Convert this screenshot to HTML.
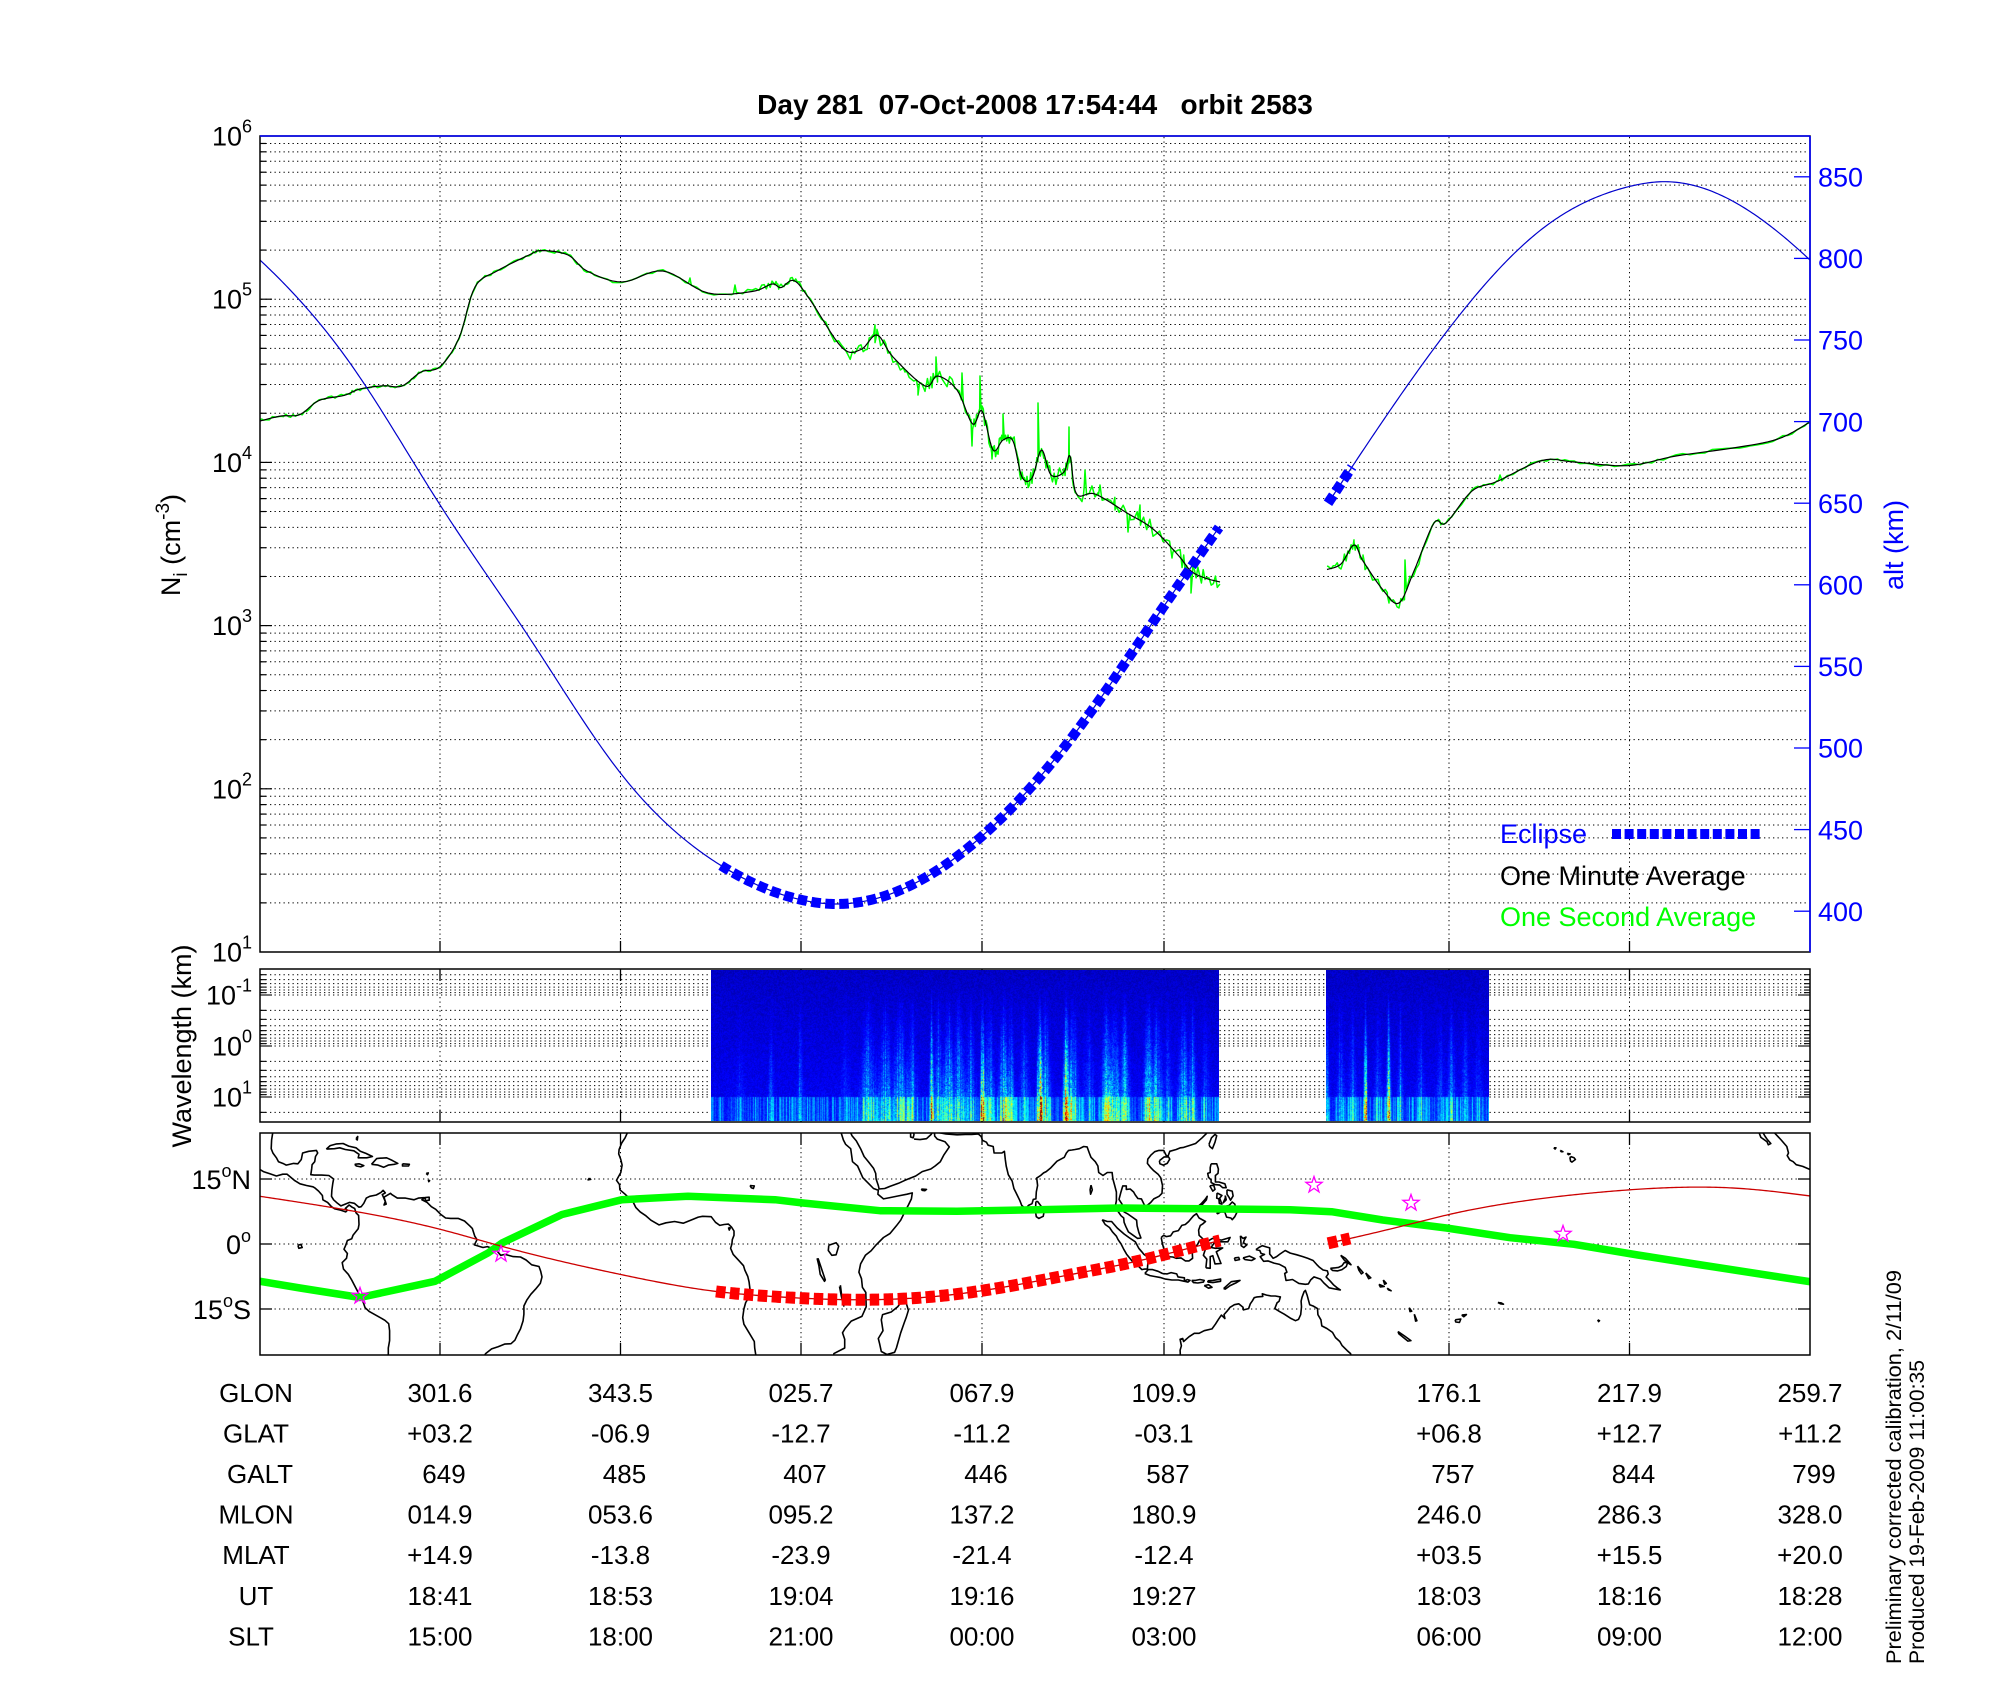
<!DOCTYPE html>
<html><head><meta charset="utf-8">
<style>
html,body{margin:0;padding:0;background:#fff;}
body{width:2000px;height:1700px;position:relative;overflow:hidden;}
#s{position:absolute;left:0;top:0;}
canvas{position:absolute;}
text{font-family:"Liberation Sans",Arial,sans-serif;}
</style></head><body>
<svg id="s" width="2000" height="1700" viewBox="0 0 2000 1700" xmlns="http://www.w3.org/2000/svg">
<defs>
<clipPath id="cm"><rect x="260" y="1133" width="1550" height="222"/></clipPath>
<clipPath id="ct"><rect x="260" y="136" width="1550" height="816"/></clipPath>
</defs>
<rect x="0" y="0" width="2000" height="1700" fill="#fff"/>
<g id="grid"></g>
<g id="data" clip-path="url(#ct)"></g>
<g id="map" clip-path="url(#cm)"></g>
<g id="axes"></g>

<text x="1035" y="114" font-size="28" font-weight="bold" text-anchor="middle" style="white-space:pre">Day 281  07-Oct-2008 17:54:44   orbit 2583</text>

<g font-size="27" text-anchor="end">
<text x="252" y="145.5">10<tspan dy="-13" font-size="18">6</tspan></text>
<text x="252" y="308.7">10<tspan dy="-13" font-size="18">5</tspan></text>
<text x="252" y="471.9">10<tspan dy="-13" font-size="18">4</tspan></text>
<text x="252" y="635.1">10<tspan dy="-13" font-size="18">3</tspan></text>
<text x="252" y="798.3">10<tspan dy="-13" font-size="18">2</tspan></text>
<text x="252" y="961.5">10<tspan dy="-13" font-size="18">1</tspan></text>
<text x="252" y="1004.5">10<tspan dy="-13" font-size="18">-1</tspan></text>
<text x="252" y="1055.5">10<tspan dy="-13" font-size="18">0</tspan></text>
<text x="252" y="1106.5">10<tspan dy="-13" font-size="18">1</tspan></text>
<text x="251" y="1189">15<tspan dy="-12" font-size="18">o</tspan><tspan dy="12">N</tspan></text>
<text x="251" y="1254">0<tspan dy="-12" font-size="18">o</tspan></text>
<text x="251" y="1319">15<tspan dy="-12" font-size="18">o</tspan><tspan dy="12">S</tspan></text>
</g>

<g font-size="27" fill="#0000ff">
<text x="1818" y="186.5">850</text>
<text x="1818" y="268.1">800</text>
<text x="1818" y="349.7">750</text>
<text x="1818" y="431.3">700</text>
<text x="1818" y="512.9">650</text>
<text x="1818" y="594.5">600</text>
<text x="1818" y="676.1">550</text>
<text x="1818" y="757.7">500</text>
<text x="1818" y="839.3">450</text>
<text x="1818" y="920.9">400</text>
</g>

<text transform="translate(180,545) rotate(-90)" text-anchor="middle" font-size="27">N<tspan font-size="19" dy="7">i</tspan><tspan dy="-7"> (cm</tspan><tspan font-size="19" dy="-11">-3</tspan><tspan dy="11">)</tspan></text>
<text transform="translate(1903,545) rotate(-90)" text-anchor="middle" font-size="27" fill="#0000ff">alt (km)</text>
<text transform="translate(191,1046) rotate(-90)" text-anchor="middle" font-size="27">Wavelength (km)</text>

<text x="1500" y="843" fill="#0000ff" font-size="27">Eclipse</text>
<text x="1500" y="885" fill="#000" font-size="27">One Minute Average</text>
<text x="1500" y="926" fill="#00ff00" font-size="27">One Second Average</text>

<g font-size="26" text-anchor="middle">
<text x="256" y="1402">GLON</text>
<text x="440" y="1402">301.6</text><text x="620.5" y="1402">343.5</text><text x="801" y="1402">025.7</text><text x="982" y="1402">067.9</text><text x="1164" y="1402">109.9</text><text x="1449" y="1402">176.1</text><text x="1629.5" y="1402">217.9</text><text x="1810" y="1402">259.7</text>
<text x="256" y="1442.5">GLAT</text>
<text x="440" y="1442.5">+03.2</text><text x="620.5" y="1442.5">-06.9</text><text x="801" y="1442.5">-12.7</text><text x="982" y="1442.5">-11.2</text><text x="1164" y="1442.5">-03.1</text><text x="1449" y="1442.5">+06.8</text><text x="1629.5" y="1442.5">+12.7</text><text x="1810" y="1442.5">+11.2</text>
<text x="260" y="1483">GALT</text>
<text x="444" y="1483">649</text><text x="624.5" y="1483">485</text><text x="805" y="1483">407</text><text x="986" y="1483">446</text><text x="1168" y="1483">587</text><text x="1453" y="1483">757</text><text x="1633.5" y="1483">844</text><text x="1814" y="1483">799</text>
<text x="256" y="1523.5">MLON</text>
<text x="440" y="1523.5">014.9</text><text x="620.5" y="1523.5">053.6</text><text x="801" y="1523.5">095.2</text><text x="982" y="1523.5">137.2</text><text x="1164" y="1523.5">180.9</text><text x="1449" y="1523.5">246.0</text><text x="1629.5" y="1523.5">286.3</text><text x="1810" y="1523.5">328.0</text>
<text x="256" y="1564">MLAT</text>
<text x="440" y="1564">+14.9</text><text x="620.5" y="1564">-13.8</text><text x="801" y="1564">-23.9</text><text x="982" y="1564">-21.4</text><text x="1164" y="1564">-12.4</text><text x="1449" y="1564">+03.5</text><text x="1629.5" y="1564">+15.5</text><text x="1810" y="1564">+20.0</text>
<text x="256" y="1605">UT</text>
<text x="440" y="1605">18:41</text><text x="620.5" y="1605">18:53</text><text x="801" y="1605">19:04</text><text x="982" y="1605">19:16</text><text x="1164" y="1605">19:27</text><text x="1449" y="1605">18:03</text><text x="1629.5" y="1605">18:16</text><text x="1810" y="1605">18:28</text>
<text x="251" y="1645.5">SLT</text>
<text x="440" y="1645.5">15:00</text><text x="620.5" y="1645.5">18:00</text><text x="801" y="1645.5">21:00</text><text x="982" y="1645.5">00:00</text><text x="1164" y="1645.5">03:00</text><text x="1449" y="1645.5">06:00</text><text x="1629.5" y="1645.5">09:00</text><text x="1810" y="1645.5">12:00</text>
</g>

<text transform="translate(1901,1664) rotate(-90)" font-size="21.5" textLength="394" lengthAdjust="spacingAndGlyphs">Preliminary corrected calibration, 2/11/09</text>
<text transform="translate(1924,1664) rotate(-90)" font-size="21.5" textLength="304" lengthAdjust="spacingAndGlyphs">Produced 19-Feb-2009 11:00:35</text>
</svg>
<canvas id="c1" width="508" height="151" style="left:711px;top:970px"></canvas>
<canvas id="c2" width="163" height="151" style="left:1326px;top:970px"></canvas>
<script>
(function(){
const NS="http://www.w3.org/2000/svg";
function $(id){return document.getElementById(id);}
function mk(tag,at,par){const e=document.createElementNS(NS,tag);for(const k in at)e.setAttribute(k,at[k]);par.appendChild(e);return e;}
function ln(par,x1,y1,x2,y2,st,w,da){const a={x1:x1,y1:y1,x2:x2,y2:y2,stroke:st,'stroke-width':w||1};if(da)a['stroke-dasharray']=da;return mk('line',a,par);}
function pd(pts){return 'M'+pts.map(p=>p[0].toFixed(2)+','+p[1].toFixed(2)).join('L');}
function rng(seed){let s=seed>>>0;return function(){s=(Math.imul(s,1664525)+1013904223)>>>0;return s/4294967296;};}
const G=$('grid'),D=$('data'),M=$('map'),A=$('axes');
const TX=[440,620.5,801,982,1164,1449,1629.5];
const DOT='1.3 3.2';
const L10=Math.log10;

/* ---------- top panel grid ---------- */
for(let e=1;e<=5;e++){for(let k=1;k<=9;k++){const v=e+L10(k);const y=136+(6-v)*163.2;
  if(y>137&&y<951){ln(G,261,y,1809,y,'#000',1,DOT);}
  if(y>136&&y<952){ln(A,260,y,260+(k==1?12:6),y,'#000',1.2);}
}}
TX.forEach(x=>{ln(G,x,137,x,951,'#000',1,DOT);ln(A,x,952,x,941,'#000',1.3);});
for(let alt=400;alt<=850;alt+=50){const y=136+(875-alt)*1.632;ln(A,1794,y,1810,y,'#0000ff',1.3);}
mk('rect',{x:260,y:136,width:1550,height:816,fill:'none',stroke:'#000','stroke-width':1.5},A);
ln(A,260,136,1810,136,'#0000ff',1.6);ln(A,1810,136,1810,952,'#0000ff',1.6);

/* ---------- spectrogram grid ---------- */
[-2,-1,0,1].forEach(b=>{for(let k=1;k<=9;k++){const v=b+L10(k);const y=995+(v+1)*51;
  if(y>970&&y<1121){ln(G,261,y,1809,y,'#000',1,DOT);ln(A,260,y,260+(k==1?12:6),y,'#000',1.1);ln(A,1810,y,1810-(k==1?12:6),y,'#000',1.1);}
}});
TX.forEach(x=>{ln(G,x,970,x,1121,'#000',1,DOT);ln(A,x,969,x,981,'#000',1.3);ln(A,x,1122,x,1110,'#000',1.3);});
mk('rect',{x:260,y:969,width:1550,height:153,fill:'none',stroke:'#000','stroke-width':1.5},A);

/* ---------- map grid ---------- */
[15,0,-15].forEach(la=>{const y=1244-la*4.333;ln(G,261,y,1809,y,'#000',1,DOT);ln(A,260,y,272,y,'#000',1.3);ln(A,1810,y,1798,y,'#000',1.3);});
TX.forEach(x=>{ln(G,x,1134,x,1354,'#000',1,DOT);ln(A,x,1133,x,1145,'#000',1.3);ln(A,x,1355,x,1343,'#000',1.3);});
mk('rect',{x:260,y:1133,width:1550,height:222,fill:'none',stroke:'#000','stroke-width':1.5},A);

/* ---------- helpers ---------- */
function spline(pts){const xs=pts.map(p=>p[0]),ys=pts.map(p=>p[1]);const n=xs.length;const h=[],al=[0],l=[1],mu=[0],z=[0];
 for(let i=0;i<n-1;i++)h[i]=xs[i+1]-xs[i];
 for(let i=1;i<n-1;i++)al[i]=3/h[i]*(ys[i+1]-ys[i])-3/h[i-1]*(ys[i]-ys[i-1]);
 for(let i=1;i<n-1;i++){l[i]=2*(xs[i+1]-xs[i-1])-h[i-1]*mu[i-1];mu[i]=h[i]/l[i];z[i]=(al[i]-h[i-1]*z[i-1])/l[i];}
 const c=new Array(n).fill(0),b=[],d=[];
 for(let j=n-2;j>=0;j--){c[j]=z[j]-mu[j]*c[j+1];b[j]=(ys[j+1]-ys[j])/h[j]-h[j]*(c[j+1]+2*c[j])/3;d[j]=(c[j+1]-c[j])/(3*h[j]);}
 return function(x){let i=0;if(x>=xs[n-1])i=n-2;else{while(i<n-2&&x>xs[i+1])i++;}const dx=x-xs[i];return ys[i]+b[i]*dx+c[i]*dx*dx+d[i]*dx*dx*dx;};}
function crSample(p,n){const out=[];for(let i=0;i<p.length-1;i++){const p0=p[Math.max(0,i-1)],p1=p[i],p2=p[i+1],p3=p[Math.min(p.length-1,i+2)];
 for(let j=0;j<n;j++){const t=j/n,t2=t*t,t3=t2*t;const f=(a,b,c,d)=>0.5*((2*b)+(-a+c)*t+(2*a-5*b+4*c-d)*t2+(-a+3*b-3*c+d)*t3);
 out.push([f(p0[0],p1[0],p2[0],p3[0]),f(p0[1],p1[1],p2[1],p3[1])]);}}out.push(p[p.length-1]);return out;}

/* ---------- density ---------- */
const NB1=[[260,421],[281,416],[300,414.5],[319,400.5],[344,395.4],[360,389],[383,385.8],[402,386],[421,372],[440,366.7],[459,338],[475,287],[497,271],[529,255],[542,250.6],[568,255],[587,271],[622,282],[663,271],[708,293],[752,291.5],[772,284],[781,287.6],[794,280.6],[810,299.7],[842,347.6],[861,349.5],[877,335],[893,357],[925,386],[937.5,376],[957,390],[972.6,424],[982,411],[993,450],[1003,440],[1013,441],[1022,477],[1032,478],[1041.5,450],[1051,475],[1064,472],[1070,456],[1076.5,494],[1095,494],[1127,513],[1153,529],[1178,555],[1191,571],[1205,578],[1220,582]];
const NB2=[[1327,569.5],[1341,564],[1354,545],[1363,561],[1383,590],[1399,603],[1414,571],[1434,523],[1446,523],[1472,491],[1497,481.5],[1542,460.5],[1574,462],[1628,465.6],[1676,456],[1733,448],[1778,439],[1810,422]];
const SP=[[875,325],[936,357],[962,373],[980,376],[972,446],[992,459],[1003,414],[1038,403],[1069,427],[1100,485],[1115,510],[1128,532],[1172,558],[1191,593],[1354,542],[1363,555],[1389,603],[1500,475],[905,372],[918,395],[1085,470],[1140,505],[1405,560],[690,278],[735,285]];
const R=rng(12345);
function amp(x){if(x>=850&&x<=1225)return 8;if(x>=700&&x<850)return 3.5;if(x>=1327&&x<=1430)return 5.5;return 1.6;}
[NB1,NB2].forEach(nb=>{
 const dense=crSample(nb,8);
 let gr=dense.map(p=>[p[0],p[1]+(R()-0.5)*2*amp(p[0])]);
 const x0=nb[0][0],x1=nb[nb.length-1][0];
 function baseY(x){for(let i=0;i<dense.length-1;i++){if(x>=dense[i][0]&&x<=dense[i+1][0]){const t=(x-dense[i][0])/(dense[i+1][0]-dense[i][0]||1);return dense[i][1]+t*(dense[i+1][1]-dense[i][1]);}}return dense[dense.length-1][1];}
 SP.forEach(s=>{if(s[0]>x0+2&&s[0]<x1-2){gr.push([s[0]-1.6,baseY(s[0]-1.6)]);gr.push([s[0],s[1]]);gr.push([s[0]+1.6,baseY(s[0]+1.6)]);}});
 gr.sort((a,b)=>a[0]-b[0]);
 mk('path',{d:pd(gr),fill:'none',stroke:'#00ff00','stroke-width':1.5,'stroke-linejoin':'round'},D);
 mk('path',{d:pd(dense),fill:'none',stroke:'#000','stroke-width':1.2,'stroke-linejoin':'round'},D);
});

/* ---------- altitude ---------- */
const AP=[[1328,650],[1449,757],[1542,818],[1629,844],[1663,847],[1733,835],[1810,799],[1901,735],[1990,649],[2080,567],[2170,485],[2271,428],[2351,407],[2380,404.5],[2532,446],[2620,505],[2714,587],[2770,636]];
const af=spline(AP);
function ay(alt){return 136+(875-alt)*1.632;}
function altPts(u0,u1){const p=[];for(let u=u0;u<=u1+0.001;u+=2){const uu=Math.min(u,u1);p.push([uu>1810?uu-1550:uu,ay(af(uu))]);}return p;}
mk('path',{d:pd(altPts(1328,1810)),fill:'none',stroke:'#0000cc','stroke-width':1.2},D);
mk('path',{d:pd(altPts(1810.0001,2770)),fill:'none',stroke:'#0000cc','stroke-width':1.2},D);
mk('path',{d:pd(altPts(1328,1353)),fill:'none',stroke:'#0000ff','stroke-width':10,'stroke-dasharray':'9.5 4.5'},D);
mk('path',{d:pd(altPts(2271,2770)),fill:'none',stroke:'#0000ff','stroke-width':10,'stroke-dasharray':'9.5 4.5'},D);
ln(A,1612,834,1763,834,'#0000ff',10,'9 3.6');

/* ---------- map ---------- */
function mx(lon){const o=((lon-259.7)%360+360)%360;return 260+o*4.3056;}
function my(lat){return 1244-lat*4.333;}
const C=[
[[-108.5,25.6],[-107,24],[-105.7,22.5],[-105.3,21],[-105.6,20.4],[-105,19.4],[-104.2,19],[-103.5,18.3],[-102,17.9],[-100.301,17.2],[-100.3,17.2],[-99.5,16.7],[-98,16.2],[-96.5,15.7],[-95,16.1],[-94,16.1],[-92.2,14.6],[-91,13.9],[-89.5,13.5],[-88,13.2],[-87.5,12.9],[-86.7,12.2],[-85.8,11.2],[-85.7,10.2],[-85,9.8],[-84.6,9.6],[-83.7,8.6],[-82.9,8.1],[-81.5,7.8],[-80.4,7.4],[-80,7.8],[-80.5,8.2],[-79.6,9],[-78.9,8.5],[-78.3,8.2],[-78,7.2],[-77.4,6.6],[-77.3,4.5],[-77.5,3.5],[-78.7,2],[-79,1.2],[-80,0.8],[-80.4,-0.3],[-80.8,-1.2],[-80,-2.2],[-80.2,-3.3],[-81.2,-4.3],[-80.9,-5.8],[-79.8,-7],[-79,-8.3],[-77.7,-10.8],[-76.3,-13.5],[-75.9,-14.7],[-74.9,-15.6],[-72.7,-16.8],[-71.3,-17.6],[-70.4,-18.4],[-70.2,-20],[-70.2,-22.3],[-70.5,-24],[-70.5,-26.5]],
[[-97.2,26.5],[-97.6,24],[-97.7,22],[-97.3,21],[-96.5,19.9],[-96,19],[-94.8,18.5],[-94.2,18.2],[-92.5,18.6],[-91.5,18.5],[-90.7,19.5],[-90.4,21],[-89,21.4],[-87.2,21.6],[-86.9,21],[-87.4,20.2],[-87.6,19],[-88.2,18.3],[-88.3,17.4],[-88.5,16],[-87.7,15.9],[-86,15.9],[-84.3,15.8],[-83.2,15],[-83.4,14],[-83.6,12.5],[-83.7,11],[-83.2,10.2],[-82.3,9.4],[-81.5,8.8],[-80.5,9.2],[-79.5,9.6],[-78.4,9.4],[-77.3,8.5],[-76.8,8.6],[-76.2,9.4],[-75.6,10.6],[-74.8,11],[-73.3,11.3],[-72.2,11.9],[-71.7,12.4],[-71.2,11.8],[-71.9,11.4],[-71.6,10.7],[-71.2,9.8],[-71.5,9],[-71,9.2],[-71.5,10.8],[-70,11.7],[-69.7,11.4],[-68.4,10.6],[-66.5,10.6],[-64.5,10.2],[-63.5,10.6],[-61.9,10.7],[-62.7,10.2],[-61.5,9.6],[-60.5,8.6],[-59.5,8],[-58.4,6.9],[-57.2,6],[-56,5.9],[-54.3,5.9],[-52.8,5.3],[-51.6,4.2],[-51,3.6],[-50.4,1.8],[-49.9,1],[-50.5,-0.2],[-48.5,-0.8],[-47.5,-0.6],[-45.5,-1.3],[-44.4,-2.6],[-43.4,-2.4],[-41.5,-2.9],[-39.8,-3],[-38.5,-3.7],[-37.2,-4.8],[-35.5,-5.2],[-35.1,-6.3],[-34.8,-7.6],[-35.2,-9.1],[-36.3,-10.4],[-37.4,-11.6],[-38.3,-12.9],[-39,-14.3],[-39,-16.2],[-39.2,-17.7],[-39.8,-19.6],[-40.5,-20.9],[-41.1,-22.2],[-42,-23],[-43.5,-23.1],[-45,-23.7],[-46.5,-24.2],[-47.9,-25.3],[-48.6,-26.5]],
[[-84.9,21.9],[-84,22.7],[-82.5,23.1],[-81,23.2],[-79.7,22.6],[-78,22.2],[-77,21.4],[-75.7,20.9],[-74.2,20.2],[-75.5,19.9],[-77.5,19.9],[-77.3,20.7],[-78.5,21.5],[-80.5,21.8],[-81.8,22.2],[-83,22],[-84.9,21.9]],
[[-74.4,18.4],[-73.2,19.7],[-72.4,19.8],[-70.9,19.9],[-69.6,19.3],[-68.3,18.6],[-69.1,18.4],[-70.5,18.2],[-71.6,17.7],[-72.9,18.2],[-74.4,18.4]],
[[-78.3,18.4],[-77.3,18.5],[-76.2,18.1],[-76.9,17.8],[-77.9,18],[-78.3,18.4]],
[[-67.2,18.5],[-65.6,18.4],[-65.8,18],[-67.2,18],[-67.2,18.5]],
[[-78,24.3],[-77.6,24.8],[-77.7,24],[-78,24.3]],
[[-61.9,10],[-61,10.1],[-61,10.8],[-61.9,10.7],[-61.9,10]],
[[-61.7,16.3],[-61.2,16.4],[-61.4,16],[-61.7,16.3]],[[-61.2,14.8],[-60.9,14.6],[-61.1,14.4],[-61.2,14.8]],
[[-91.5,-0.3],[-90.8,-0.1],[-90.5,-0.8],[-91.3,-1],[-91.5,-0.3]],
[[-23.8,15.2],[-23.5,14.9],[-24.1,14.8],[-23.8,15.2]],
[[-14.6,26.5],[-15.5,24.5],[-16.3,23.3],[-16.9,21.8],[-17,20.8],[-16.5,19.5],[-16.2,18.2],[-16.5,16.5],[-17.5,14.7],[-16.8,13.7],[-16.7,12.5],[-15.5,11.5],[-14.8,10.8],[-13.6,9.6],[-13,8.4],[-12,7.4],[-10.8,6.6],[-9.5,5.5],[-7.6,4.4],[-6,4.9],[-4,5.2],[-2,4.8],[0,5.6],[1.5,6.2],[2.5,6.4],[4.5,6.3],[5.5,5],[6.5,4.3],[7.5,4.5],[8.5,4.6],[9.2,3.9],[9.8,3],[9.8,2],[9.4,1],[9.3,0],[9,-1],[9.6,-2.4],[11,-3.9],[12,-5],[12.3,-6],[13,-7.5],[13.3,-8.8],[13.5,-10.5],[13.8,-11.5],[12.5,-13.5],[12.1,-15],[11.8,-17],[12.1,-18.5],[13.3,-20.5],[14.5,-22.5],[14.6,-24],[15,-26.5]],
[[8.5,3.8],[8.9,3.7],[8.7,3.2],[8.5,3.8]],
[[13.5,13.5],[14.5,13.4],[14.3,12.8],[13.8,13],[13.5,13.5]],
[[34.4,26.5],[35.2,24],[35.7,23],[36.9,22],[37.3,19],[38.5,18],[39.7,15.3],[41,14],[42.2,12.8],[43.3,12.4],[43.2,11.5],[44.5,10.4],[46,10.7],[48,11.1],[50,11.5],[51.2,11.8],[51,10.4],[50.3,9],[49.5,7.5],[48.5,5.5],[47.5,4.2],[46,2.4],[44.5,1.5],[42.8,-0.2],[41.6,-1.6],[40.3,-2.6],[39.2,-4.6],[38.8,-6.5],[39.4,-8],[39.6,-10],[40.4,-11.2],[40.5,-14.5],[39.5,-16.7],[37,-17.8],[35.6,-19.5],[35,-20.5],[35.5,-22],[35.5,-24],[33,-25.3],[32.8,-26.5]],
[[31.8,-0.3],[33.5,0.3],[34.1,-0.5],[33.5,-2.5],[32.5,-2.6],[31.7,-1.5],[31.8,-0.3]],
[[29.1,-3.3],[29.5,-5],[29.8,-7],[30.8,-8.6],[31,-8.3],[30.4,-6.5],[29.8,-4.8],[29.3,-3.3]],
[[34.5,-9.5],[34.8,-12],[35.3,-14.3],[34.7,-12],[34.3,-9.8]],
[[49.3,-12],[50.3,-15.3],[49.8,-16.9],[49.4,-18],[48.5,-20.5],[47.5,-24],[47.1,-25],[45.3,-25.5],[44,-24.8],[43.6,-23],[43.3,-21.8],[44.4,-20],[44,-17.5],[44.3,-16.3],[46.3,-15.7],[47.8,-14.5],[48.5,-13.5],[49.3,-12]],
[[36.5,26.5],[37.2,25],[38.2,23.8],[39.2,22],[40,20.2],[41,19],[42.2,17.5],[42.7,16.3],[42.8,15],[43.3,13.5],[43.5,12.7],[44.8,12.8],[46,13.3],[48,14],[49.5,14.7],[52,15.7],[53.5,16.7],[55.5,17.3],[56.5,18],[57.7,19],[58.5,20.5],[59.8,22.4],[58.8,23.6],[57,24.2],[56.4,24.9],[56.3,26.3]],
[[50.8,26],[50.8,24.7],[51.4,24.5],[51.6,25.3],[51.3,26.1]],
[[51.6,24.2],[53,24.1],[54.5,24.3],[55.6,25.3],[56,26]],
[[53.3,12.7],[54.5,12.6],[54.1,12.3],[53.5,12.4],[53.3,12.7]],
[[56.8,27],[57.3,25.7],[59,25.4],[61.6,25.2],[63.5,25.3],[65,25.3],[66.5,25.4],[67.2,24.8],[67.5,23.9],[68.4,23.5],[68.8,22.8],[70,22.5],[70.2,21],[72,21],[72.6,21.4],[72.8,19.5],[73,18],[73.5,16],[74.4,14.5],[74.8,12.8],[75.3,11.8],[76.2,10],[76.6,8.9],[77.5,8.1],[78.2,8.9],[79,9.3],[79.3,10.3],[79.9,10.4],[80,12],[80.3,13.5],[80.1,15.2],[81,15.8],[81.7,16.4],[82.3,16.7],[83.4,17.6],[84.8,19.1],[86.5,20],[87,21],[87.5,21.6],[88.3,21.7],[89,21.8],[90,22],[91,22.5],[91.8,22.4],[92.3,21],[92.7,20],[93.7,19],[94.3,18],[94.5,16.5],[95.5,15.8],[96.5,16.5],[97.6,16.5],[97.8,15],[98.2,13.5],[98.6,12],[98.6,10],[98.3,8.5],[98.5,8],[99,7.5],[99.7,6.5],[100.3,6],[100.4,5],[100.8,4],[101.4,2.8],[102.5,2],[103.5,1.3],[104.3,1.4],[103.8,2.7],[103.4,4.2],[103.3,5.5],[102.3,6.2],[101.3,6.9],[100.4,7.4],[100.3,8.5],[99.9,9.2],[99.2,10.3],[99.6,11.8],[99.9,12.8],[100.1,13.4],[100.9,13.4],[100.9,12.6],[101.8,12.7],[102.6,12],[103,11.3],[103.6,10.5],[104.4,10.4],[105.1,9],[104.8,8.6],[105.6,8.8],[106.5,9.5],[107.3,10.4],[108.5,11],[109.2,11.7],[109.3,13.5],[108.9,15.3],[108.3,16.1],[107.3,16.9],[106.6,17.6],[105.8,18.6],[105.9,19.6],[106.6,20.5],[107.5,21.3],[108.5,21.6],[109.6,21.6],[110.2,20.4],[110.6,20.3],[111,21.4],[112.5,21.8],[113.5,22.2],[114.2,22.3],[115.5,22.7],[117,23.2],[118.5,24.5],[119.5,25.5],[120,26.5]],
[[79.9,9.8],[80.3,9.8],[81.3,8.5],[81.8,7.3],[81.6,6.4],[80.6,5.9],[80,6.3],[79.8,7.6],[79.9,9.8]],
[[92.7,13.6],[93,12.5],[92.6,11.5],[92.5,12.5],[92.7,13.6]],
[[108.6,19.2],[109.7,20.1],[110.7,20.1],[111,19.6],[110.4,18.6],[109.5,18.2],[108.7,18.5],[108.6,19.2]],
[[120.1,23],[120.7,24.5],[121.5,25.3],[121.9,25],[121.5,23.5],[120.9,22],[120.3,22.5],[120.1,23]],
[[120.6,18.5],[121.9,18.5],[122.3,17.3],[122.2,16.3],[121.6,15.8],[121.6,14.3],[122.4,14.3],[123.8,13.9],[124.1,13],[123.3,13],[122.6,13.6],[121.5,13.7],[120.6,14.2],[120.6,14.8],[120,15.4],[119.8,16.3],[120.4,16.5],[120.4,17.6],[120.6,18.5]],
[[120.3,13.4],[121.2,13.6],[121.5,12.6],[121,12.2],[120.3,13.4]],
[[124.3,12.5],[125.5,12.2],[125.7,11.1],[125.1,10.1],[124.8,10.7],[124.3,11.5],[124.3,12.5]],
[[122,11.8],[123.1,11.2],[122.6,10.6],[123.1,9.2],[122.5,9.4],[122.4,10.4],[121.9,10.6],[122,11.8]],
[[123.9,11.2],[124.1,10.2],[123.4,9.5],[123.9,10.6],[123.9,11.2]],
[[122,6.9],[122.1,7.8],[123.3,7.9],[123.7,8.6],[124.8,8.9],[125.5,9.7],[126.1,9.2],[126.6,7.3],[126.1,6.3],[125.5,5.6],[125.2,6],[124.2,6.2],[123.8,7.3],[123.4,7.4],[122.8,7.4],[122,6.9]],
[[117.2,8.4],[118.4,9.4],[119.3,10.4],[119.7,11],[119.5,10.2],[118.4,8.9],[117.4,8.1],[117.2,8.4]],
[[109,1.5],[109.3,0],[109.6,-1],[110.1,-1.8],[110.2,-2.9],[111.7,-3],[112.5,-3.3],[113.6,-3.2],[114.6,-3.9],[115.5,-3.9],[116.3,-3.3],[116.2,-1.7],[116.8,-1],[117.5,0],[117.9,0.8],[118.9,1],[117.8,2],[117.7,3.2],[118.1,4.3],[118.6,4.6],[119.3,5.2],[117.8,6],[117.2,7],[116.5,6.5],[116,5.9],[115.4,5.2],[114.6,4.5],[113.8,4.3],[113,3.1],[111.8,2.8],[111.2,1.9],[110.2,1.7],[109.6,2],[109,1.5]],
[[95.3,5.6],[96.5,5.2],[97.5,5.2],[98.8,3.7],[100.4,2.3],[101.5,1.5],[103,0.5],[103.8,-1],[104.5,-1.8],[105,-2.4],[106,-3.1],[105.9,-4.5],[105.8,-5.8],[105.1,-5.8],[104.5,-5.9],[103.4,-4.8],[102.3,-4],[101,-2.4],[100.3,-1.2],[99.7,0],[99,1],[98.6,1.8],[97.7,2.8],[97,3.8],[96,4.5],[95.3,5.6]],
[[105.2,-6.8],[106,-5.9],[107,-5.9],[108.3,-6.3],[109.3,-6.8],[110.4,-6.9],[111.3,-6.6],[112.6,-6.9],[112.9,-7.6],[114.4,-7.8],[114.4,-8.6],[113,-8.3],[111.5,-8.3],[110,-8.1],[108.7,-7.7],[107.5,-7.5],[106.4,-7.3],[105.4,-6.9],[105.2,-6.8]],
[[115,-8.2],[115.7,-8.4],[115.2,-8.8],[114.5,-8.6],[115,-8.2]],
[[116.1,-8.4],[117,-8.4],[118,-8.2],[119,-8.4],[118.8,-8.8],[117.5,-9],[116.5,-8.9],[116.1,-8.4]],
[[119.8,-8.5],[121,-8.4],[122.8,-8.1],[122.8,-8.6],[121,-8.9],[119.9,-8.8],[119.8,-8.5]],
[[119,-9.6],[120,-9.4],[120.8,-10],[120,-10.2],[119,-9.6]],
[[123.5,-10.3],[124.5,-9.4],[125.3,-8.7],[127.3,-8.4],[126.5,-8.9],[125,-9.6],[123.9,-10.4],[123.5,-10.3]],
[[119.4,-5.5],[119.6,-3.5],[118.8,-2.6],[119.5,-0.5],[119.9,0.7],[120.9,1.3],[123,0.9],[125,1.5],[124.5,0.5],[121.5,0.5],[120.6,-0.8],[121.6,-1],[123.3,-0.9],[121.8,-1.8],[122.9,-4.5],[121.5,-4.6],[121,-2.7],[120.4,-2.9],[120.4,-5.6],[119.4,-5.5]],
[[127.4,1.9],[128,1.3],[128.7,1.6],[128.3,0.9],[128.1,0.3],[128.9,-0.2],[128.2,-0.8],[127.6,-0.4],[127.5,0.8],[127.4,1.9]],
[[126,-3.2],[127,-3.1],[127.2,-3.6],[126.2,-3.8],[126,-3.2]],
[[128,-3.2],[129.5,-2.8],[130.8,-3.4],[130,-3.8],[128.5,-3.6],[128,-3.2]],
[[131,-1.3],[131.7,-0.8],[132.5,-0.4],[133.5,-0.7],[134.2,-0.9],[134.2,-2.3],[135,-3.3],[135.8,-2.9],[136.6,-2.3],[137.8,-1.5],[139,-2.1],[140.5,-2.5],[141.9,-2.9],[143,-3.3],[144.3,-3.8],[145.1,-4.7],[145.8,-5.4],[146.6,-6],[147.6,-6.2],[147.8,-6.9],[147.3,-7.6],[148.3,-8.6],[149,-9.4],[150,-10.2],[150.6,-10.6],[149.5,-10.4],[148,-10.1],[146.8,-9],[146,-8.1],[144.5,-7.6],[143.7,-8.3],[143.2,-9.2],[142.5,-9.3],[141,-9.1],[139.5,-8.2],[138.8,-8.3],[138,-8.4],[137.7,-6.8],[138.2,-6.5],[137.8,-5.4],[136.5,-4.7],[135.2,-4.4],[133.8,-3.9],[132.8,-4],[132,-2.9],[133,-2.4],[132.2,-2.2],[131.9,-1.5],[131,-1.3]],
[[148.3,-5.6],[149.5,-5.5],[150.2,-5.4],[151,-5],[151.5,-4.3],[152.3,-4.3],[152,-5.2],[151,-5.9],[150,-6.2],[148.8,-6.1],[148.3,-5.6]],
[[150.7,-2.6],[151.8,-3.3],[152.7,-4.3],[153.1,-4.8],[152.4,-4.4],[151.5,-3.7],[150.7,-2.6]],
[[154.6,-5.1],[155.9,-6.6],[155.5,-6.9],[154.9,-6],[154.6,-5.1]],
[[156.5,-6.7],[157.7,-7.8],[157.2,-8],[156.5,-6.7]],[[159.6,-9.3],[160.8,-9.8],[159.9,-9.9],[159.6,-9.3]],[[160.6,-8.3],[161.3,-9.1],[160.9,-9.3],[160.6,-8.3]],[[161.5,-10.2],[162.4,-10.8],[161.8,-10.6],[161.5,-10.2]],
[[113.5,-26.5],[113.4,-24.5],[113.7,-23.5],[113.4,-22],[114,-21.8],[114.2,-22.5],[115.5,-21.4],[116.7,-20.6],[117.8,-20.6],[119,-20],[120.8,-19.6],[121.6,-18.5],[122.3,-17.4],[123,-16.4],[123.8,-17.2],[123.6,-16.3],[124.3,-15.5],[125,-14.6],[126,-14],[127,-13.8],[128,-14.6],[128.1,-15.2],[129.3,-14.9],[129.7,-13.8],[130.2,-13.1],[130.6,-12.4],[131.3,-12.2],[132.6,-12.1],[132.5,-11.5],[133.5,-11.8],[134.5,-12],[135.5,-12],[136.7,-12.2],[136.4,-13.2],[135.9,-13.6],[135.4,-14.9],[136.5,-15.6],[137.6,-16.2],[139,-17.1],[140.2,-17.7],[140.9,-17.4],[141.4,-16.3],[141.6,-14.5],[141.5,-13.2],[141.7,-12.3],[142.2,-11],[142.5,-10.7],[142.9,-11.8],[143.2,-12.9],[143.5,-14],[144.3,-14.3],[145.3,-14.9],[145.4,-16.3],[146.1,-17.5],[146.3,-18.9],[147.5,-19.5],[148.8,-20.4],[149.5,-21.6],[150.5,-22.5],[151,-23.4],[152.2,-24.6],[153,-25.3],[153.2,-26.5]],
[[166.6,-14.7],[167.2,-15.5],[166.8,-15.6],[166.6,-14.7]],[[167.8,-16.2],[168.4,-17.7],[168.1,-17.8],[167.8,-16.2]],
[[164,-20.2],[165.5,-21.2],[167,-22.3],[166.3,-22.4],[164.2,-20.7],[164,-20.2]],
[[177.3,-17.5],[178.6,-17.3],[178.3,-18.1],[177.4,-18],[177.3,-17.5]],[[178.8,-16.4],[179.9,-16.3],[179.3,-16.8],[178.8,-16.4]],
[[-172.8,-13.5],[-172.2,-13.8],[-171.5,-13.9],[-172.0,-13.6],[-172.8,-13.5]],
[[-149.6,-17.5],[-149.2,-17.7],[-149.4,-17.9],[-149.6,-17.5]],
[[-155.9,20.2],[-155.1,19.9],[-154.8,19.5],[-155.6,18.9],[-155.9,19.1],[-156.05,19.8],[-155.9,20.2]],
[[-156.7,20.9],[-156,20.8],[-156.4,20.6],[-156.7,20.9]],[[-158.3,21.6],[-157.7,21.3],[-158.1,21.3],[-158.3,21.6]],[[-159.8,22.2],[-159.3,22.2],[-159.5,21.9],[-159.8,22.2]],
[[-112.3,26.5],[-112.1,25.6],[-111.7,24.6],[-110.3,23.6],[-110,22.9],[-109.4,23.2],[-110.3,24.2],[-110.7,24.8],[-111.3,25.8],[-111.6,26.5]]
];
let cd='';
C.forEach(poly=>{let px=null;poly.forEach(p=>{const x=mx(p[0]),y=my(p[1]);if(px===null||Math.abs(x-px)>700)cd+='M'+x.toFixed(1)+','+y.toFixed(1);else cd+='L'+x.toFixed(1)+','+y.toFixed(1);px=x;});});
mk('path',{d:cd,fill:'none',stroke:'#000','stroke-width':1.6,'stroke-linejoin':'round'},M);

const GE=[[258,1281],[300,1288],[360,1297.5],[435,1281.3],[488,1253],[502,1243],[562,1214.5],[622,1199.7],[688,1196.3],[775,1199.7],[803,1203],[880,1210.7],[957,1211.3],[1037,1209.7],[1120,1208],[1203,1208.7],[1290,1209.7],[1331.6,1211.7],[1382.7,1220],[1446.4,1228],[1510,1237.7],[1574,1244.3],[1637.8,1255],[1701.5,1265],[1812,1282]];
mk('path',{d:pd(GE),fill:'none',stroke:'#00ff00','stroke-width':7.5,'stroke-linejoin':'round'},M);

const RL=[[258,1196],[345,1209.7],[441.7,1229.7],[501.7,1246.3],[621.7,1274.7],[715,1291.3],[770,1296.3],[870,1299.7],[936.7,1296.3],[1003,1287.3],[1070,1274.7],[1136.7,1261.3],[1203,1244.7],[1220,1240.5]];
const RR=[[1328,1243.3],[1347.6,1239],[1414.5,1223],[1449,1214.5],[1510,1203],[1606,1191.7],[1682,1187.3],[1733,1188],[1812,1196.2]];
const fl=spline(RL),fr=spline(RR);
function tr(f,a,b){const p=[];for(let x=a;x<=b+0.001;x+=2){const xx=Math.min(x,b);p.push([xx,f(xx)]);}return p;}
mk('path',{d:pd(tr(fl,258,1220)),fill:'none',stroke:'#cc0000','stroke-width':1.3},M);
mk('path',{d:pd(tr(fr,1328,1812)),fill:'none',stroke:'#cc0000','stroke-width':1.3},M);
mk('path',{d:pd(tr(fl,716,1220)),fill:'none',stroke:'#ff0000','stroke-width':12,'stroke-dasharray':'9.5 4.5'},M);
mk('path',{d:pd(tr(fr,1328,1351)),fill:'none',stroke:'#ff0000','stroke-width':12,'stroke-dasharray':'9.5 4.5'},M);

function star(cx,cy,Ro){const p=[];for(let i=0;i<10;i++){const r=i%2?Ro*0.4:Ro;const a=-Math.PI/2+i*Math.PI/5;p.push((cx+r*Math.cos(a)).toFixed(1)+','+(cy+r*Math.sin(a)).toFixed(1));}
 mk('polygon',{points:p.join(' '),fill:'none',stroke:'#ff00ff','stroke-width':1.3},M);}
[[360,1296],[501,1254],[1314,1185],[1411,1203],[1563,1234]].forEach(s=>star(s[0],s[1],8.5));

/* ---------- spectrogram ---------- */
function jet(v){v=Math.max(0,Math.min(1,v));const c=x=>Math.max(0,Math.min(1,x));return [c(1.5-Math.abs(4*v-3))*255|0,c(1.5-Math.abs(4*v-2))*255|0,c(1.5-Math.abs(4*v-1))*255|0];}
function drawSpec(id,x0,streaks,seed){const cv=$(id);if(!cv.getContext)return;const ctx=cv.getContext('2d');const W=cv.width,H=cv.height;const img=ctx.createImageData(W,H);const r=rng(seed);
 for(let i=0;i<W;i++){const x=x0+i;const colr=0.4+r()*0.9;const q=r();const band=0.02+q*q*0.22;
  for(let j=0;j<H;j++){const y=970+j;const t=j/H;const tt=Math.max(0,(t-0.1)/0.9);
   let Av=0;for(let s=0;s<streaks.length;s++){const st=streaks[s];const w=st[1]*(0.4+0.9*tt);const d=(x-st[0])/w;if(d>-4&&d<4)Av+=st[2]*Math.exp(-d*d);}
   let v=0.07+0.05*t+(r()-0.5)*0.06+Av*colr*Math.pow(tt,1.1)*(0.4+r()*0.9);
   if(y>=1097)v+=band+Av*colr*0.1;
   const c=jet(v);const k=(j*W+i)*4;img.data[k]=c[0];img.data[k+1]=c[1];img.data[k+2]=c[2];img.data[k+3]=255;}}
 ctx.putImageData(img,0,0);}
const S1=[[740,3,0.1],[771,2,0.18],[800,2,0.2],[845,4,0.08],[868,6,0.25],[885,5,0.27],[900,6,0.27],[912,4,0.22],[931,1.5,0.5],[938,4,0.27],[948,4,0.32],[958,5,0.27],[970,4,0.22],[982,1.5,0.75],[989,4,0.32],[1003,4,0.36],[1010,3,0.27],[1024,4,0.18],[1039,2,0.8],[1045,4,0.32],[1066,2.5,0.8],[1073,4,0.36],[1088,4,0.18],[1106,4,0.32],[1114,4,0.34],[1124,4,0.32],[1148,4,0.3],[1157,4,0.32],[1168,3,0.18],[1183,4,0.3],[1192,3,0.3],[1205,3,0.13]];
const S2=[[1327,1.5,0.25],[1340,3,0.16],[1352,3,0.16],[1365,1.2,0.8],[1378,3,0.16],[1388,1.5,0.9],[1400,2,0.25],[1420,3,0.15],[1440,3,0.12],[1451,3,0.2],[1465,3,0.15],[1478,3,0.12]];
drawSpec('c1',711,S1,777);
drawSpec('c2',1326,S2,4242);
})();
</script>
</body></html>
